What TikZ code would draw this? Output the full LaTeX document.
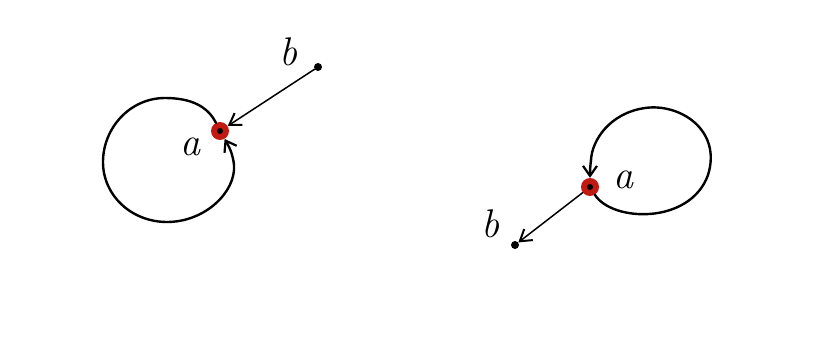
\documentclass[tikz,border=0pt]{standalone}
\usepackage{fontspec}
\usetikzlibrary{arrows.meta}
\definecolor{dotred}{HTML}{C01A12}
\begin{document}
\begin{tikzpicture}[x=1pt,y=-1pt,
  stroke/.style={line width=2.4pt, black, line cap=round, line join=round},
  arr/.style={stroke, -{Straight Barb[length=10pt,width=14pt,line width=2.2pt]}},
  thin arr/.style={line width=1.5pt, black, line cap=round, -{Straight Barb[length=11pt,width=14pt,line width=2pt]}},
  reddot/.style={circle, fill=dotred, minimum size=18pt, inner sep=0pt},
  enddot/.style={circle, fill=black, minimum size=8pt, inner sep=0pt},
  lbl/.style={font=\fontsize{40}{40}\selectfont\itshape, inner sep=0pt}]
\useasboundingbox (0,0) rectangle (833,342);
\fill[white] (0,0) rectangle (833,342);
% left diagram
\node[reddot] (a1dot) at (220,131) {};
\fill[black] (a1dot.center) circle (3pt);
\node[enddot] (b1) at (318,67) {};
\node[lbl] (la1) at (190,147) {a};
\node[lbl] (lb1) at (288,52) {b};
\draw[stroke] (a1dot) .. controls (208,107) and (192,98) .. (165,98)
  .. controls (130,98) and (103,128) .. (103,162)
  .. controls (103,196) and (132,222) .. (167,222)
  .. controls (205,222) and (236,192) .. (234,165);
\draw[arr] (234,165) .. controls (233,156) and (231,150) .. (a1dot);
\draw[thin arr] (b1) -- (a1dot);
% right diagram
\node[reddot] (a2dot) at (590,187) {};
\fill[black] (a2dot.center) circle (3pt);
\node[enddot] (b2) at (515,245) {};
\node[lbl] (la2) at (623,180) {a};
\node[lbl] (lb2) at (490,224) {b};
\draw[stroke] (a2dot) .. controls (612,222) and (690,225) .. (708,175)
  .. controls (722,130) and (680,103) .. (645,108)
  .. controls (610,113) and (592,140) .. (591,160);
\draw[arr] (591,160) .. controls (590,168) and (590,172) .. (a2dot);
\draw[thin arr] (a2dot) -- (b2);
\end{tikzpicture}
\end{document}
